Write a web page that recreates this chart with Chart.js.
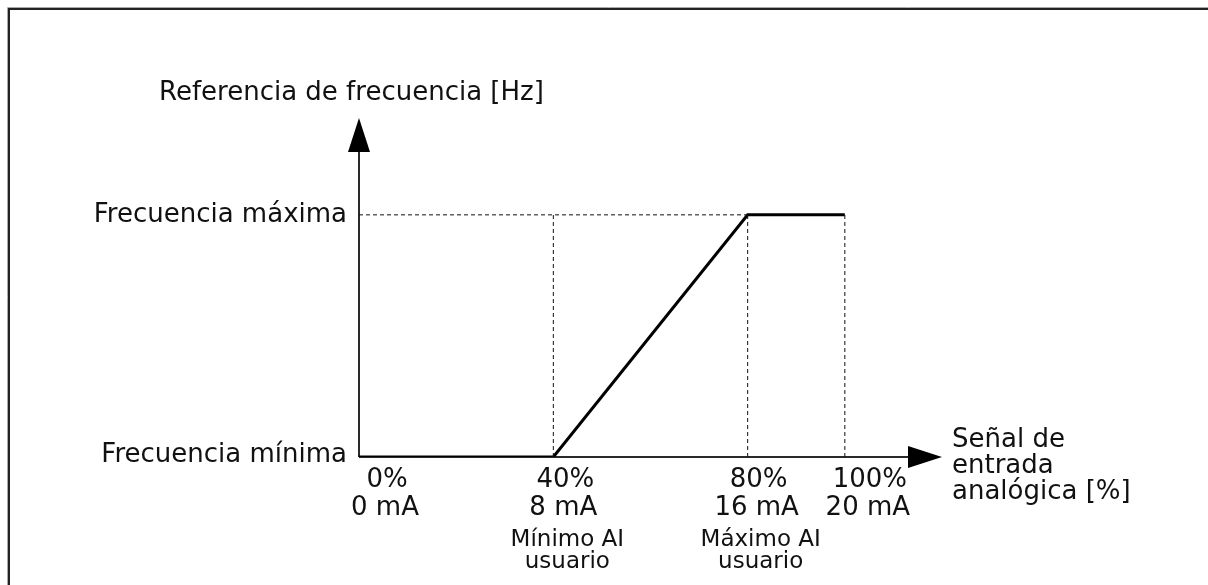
<!DOCTYPE html>
<html>
<head>
<meta charset="utf-8">
<script src="https://cdn.jsdelivr.net/npm/chart.js@4"></script>
<style>
  html, body { margin: 0; padding: 0; background: #fff; }
  canvas { display: block; }
</style>
</head>
<body>
<canvas id="aiChart" width="1208" height="585"></canvas>
<script>
// Signal in % -> frequency level (0 = minimum, 1 = maximum)
var signalPoints = [0, 40, 80, 100];
var freqLevels = [0, 0, 1, 1];

// Tick labels under the x axis
var tickValues = [0, 40, 80, 100];
var tickPercents = ['0%', '40%', '80%', '100%'];
var tickCurrents = ['0 mA', '8 mA', '16 mA', '20 mA'];
var userLabels = ['', 'Mínimo AI\nusuario', 'Máximo AI\nusuario', ''];

// Y axis level labels
var levelValues = [1, 0];
var levelLabels = ['Frecuencia máxima', 'Frecuencia mínima'];

var yTitle = 'Referencia de frecuencia [Hz]';
var xTitle = ['Señal de', 'entrada', 'analógica [%]'];

function pts(xs, ys) {
    return xs.map(function (x, i) { return { x: x, y: ys[i] }; });
}

var dashStyle = {
    borderColor: '#111',
    borderWidth: 1,
    borderDash: [4, 3],
    pointRadius: 0,
    fill: false
};

var datasets = [];
// horizontal guide at maximum frequency
datasets.push(Object.assign({ data: pts([0, signalPoints[2]], [1, 1]) }, dashStyle));
// vertical guides at ticks 40, 80, 100
tickValues.slice(1).forEach(function (v) {
    datasets.push(Object.assign({ data: pts([v, v], [0, 1]) }, dashStyle));
});
// the curve
datasets.push({
    data: pts(signalPoints, freqLevels),
    borderColor: '#000',
    borderWidth: 3,
    pointRadius: 0,
    fill: false
});

var axesPlugin = {
    id: 'axesArrows',
    beforeDatasetsDraw: function (chart) {
        var ctx = chart.ctx;
        var xs = chart.scales.x, ys = chart.scales.y;
        var x0 = xs.getPixelForValue(0);
        var y0 = ys.getPixelForValue(0);
        var right = chart.chartArea.right;
        var top = chart.chartArea.top;
        ctx.save();

        // frame
        ctx.strokeStyle = '#aaa';
        ctx.lineWidth = 1;
        ctx.beginPath();
        ctx.moveTo(7.5, 1300); ctx.lineTo(7.5, 7.5); ctx.lineTo(1300, 7.5);
        ctx.stroke();
        ctx.strokeStyle = '#222';
        ctx.lineWidth = 2;
        ctx.beginPath();
        ctx.moveTo(9, 1300); ctx.lineTo(9, 9); ctx.lineTo(1300, 9);
        ctx.stroke();

        // axes
        ctx.strokeStyle = '#2a2a2a';
        ctx.lineWidth = 2;
        ctx.beginPath();
        ctx.moveTo(x0, y0); ctx.lineTo(x0, top + 33);
        ctx.moveTo(x0, y0); ctx.lineTo(right - 33, y0);
        ctx.stroke();

        ctx.fillStyle = '#000';
        ctx.beginPath();
        ctx.moveTo(x0, top);
        ctx.lineTo(x0 - 11, top + 34);
        ctx.lineTo(x0 + 11, top + 34);
        ctx.closePath();
        ctx.fill();
        ctx.beginPath();
        ctx.moveTo(right, y0);
        ctx.lineTo(right - 34, y0 - 11);
        ctx.lineTo(right - 34, y0 + 11);
        ctx.closePath();
        ctx.fill();
        ctx.restore();
    },
    afterDraw: function (chart) {
        var ctx = chart.ctx;
        var xs = chart.scales.x, ys = chart.scales.y;
        var x0 = xs.getPixelForValue(0);
        var y0 = ys.getPixelForValue(0);
        var right = chart.chartArea.right;
        ctx.save();
        ctx.fillStyle = '#111';
        ctx.textBaseline = 'alphabetic';

        // y title
        ctx.font = '26px "DejaVu Sans"';
        ctx.textAlign = 'left';
        ctx.fillText(yTitle, 159, 100);

        // level labels
        ctx.textAlign = 'right';
        levelValues.forEach(function (v, i) {
            var y = ys.getPixelForValue(v);
            ctx.fillText(levelLabels[i], x0 - 12, v === 0 ? y + 5 : y + 7);
        });

        // x title
        ctx.textAlign = 'left';
        xTitle.forEach(function (line, i) {
            ctx.fillText(line, right + 10, y0 - 10 + i * 26);
        });

        // tick labels
        var offsets = [28, 12, 11, 25];
        ctx.textAlign = 'center';
        tickValues.forEach(function (v, i) {
            var cx = xs.getPixelForValue(v) + offsets[i];
            ctx.font = '26px "DejaVu Sans"';
            ctx.fillText(tickPercents[i], cx, y0 + 30);
            ctx.fillText(tickCurrents[i], cx - 2, y0 + 58);
            if (userLabels[i]) {
                ctx.font = '23px "DejaVu Sans"';
                userLabels[i].split('\n').forEach(function (line, k) {
                    ctx.fillText(line, cx + 2, y0 + 89 + k * 22);
                });
            }
        });
        ctx.restore();
    }
};

var ctx = document.getElementById('aiChart').getContext('2d');
new Chart(ctx, {
    type: 'line',
    data: { datasets: datasets },
    options: {
        responsive: false,
        animation: false,
        layout: { padding: { left: 359, right: 266, top: 118, bottom: 128 } },
        plugins: { legend: { display: false }, tooltip: { enabled: false } },
        scales: {
            x: { type: 'linear', min: 0, max: 120, display: false },
            y: { type: 'linear', min: 0, max: 1.4, display: false }
        }
    },
    plugins: [axesPlugin]
});
</script>
</body>
</html>
